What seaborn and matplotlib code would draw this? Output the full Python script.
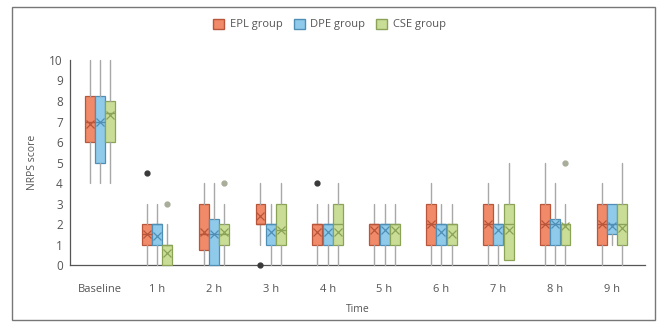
import numpy as np
import seaborn as sns
import matplotlib.pyplot as plt
from matplotlib.patches import Patch, Rectangle

times = ["Baseline", "1 h", "2 h", "3 h", "4 h", "5 h", "6 h", "7 h", "8 h", "9 h"]
groups = ["EPL group", "DPE group", "CSE group"]

# box stats per group, one value per time point
epl_lo = [4, 0, 0, 1, 0, 0, 0, 0, 0, 0]
epl_q1 = [6, 1, 0.75, 2, 1, 1, 1, 1, 1, 1]
epl_med = [7, 1.5, 1.5, 2, 2, 2, 2, 2, 2, 2]
epl_q3 = [8.25, 2, 3, 3, 2, 2, 3, 3, 3, 3]
epl_hi = [10, 3, 4, 4, 3, 3, 4, 4, 5, 4]
epl_mean = [6.9, 1.5, 1.6, 2.4, 1.6, 1.7, 2.0, 2.0, 2.0, 2.0]
epl_out = [[], [4.5], [], [0], [4], [], [], [], [], []]

dpe_lo = [4, 0, 0, 0, 0, 0, 0, 0, 0, 1]
dpe_q1 = [5, 1, 0, 1, 1, 1, 1, 1, 1, 1.5]
dpe_med = [7, 2, 1.5, 2, 2, 2, 2, 2, 2, 2]
dpe_q3 = [8.25, 2, 2.25, 2, 2, 2, 2, 2, 2.25, 3]
dpe_hi = [10, 3, 4, 3, 3, 3, 3, 3, 4, 3]
dpe_mean = [7.0, 1.4, 1.5, 1.6, 1.6, 1.7, 1.6, 1.7, 2.0, 1.9]
dpe_out = [[], [], [], [], [], [], [], [], [], []]

cse_lo = [4, 0, 0, 0, 0, 0, 0, 0.25, 0, 0]
cse_q1 = [6, 0, 1, 1, 1, 1, 1, 0.25, 1, 1]
cse_med = [7.4, 1, 1.5, 1.7, 2, 2, 2, 2, 2, 2]
cse_q3 = [8, 1, 2, 3, 3, 2, 2, 3, 2, 3]
cse_hi = [10, 2, 3, 4, 4, 3, 3, 5, 3, 5]
cse_mean = [7.3, 0.6, 1.6, 1.7, 1.6, 1.7, 1.5, 1.7, 1.9, 1.8]
cse_out = [[], [3], [4], [], [], [], [], [], [5], []]

stats = {
    "EPL group": (epl_lo, epl_q1, epl_med, epl_q3, epl_hi, epl_mean, epl_out),
    "DPE group": (dpe_lo, dpe_q1, dpe_med, dpe_q3, dpe_hi, dpe_mean, dpe_out),
    "CSE group": (cse_lo, cse_q1, cse_med, cse_q3, cse_hi, cse_mean, cse_out),
}

fills = ["#f08a68", "#8fcaea", "#c9dd97"]
edges = ["#b8553a", "#4f8fb5", "#8aa357"]
flier_cols = ["#3a3a3a", "#8a9aa8", "#a8ae9a"]

sns.set_style("white")
plt.rcParams['font.family'] = ['Open Sans', 'DejaVu Sans']
txt = "#555555"

fig = plt.figure(figsize=(6.59, 3.26), dpi=100)
ax = fig.add_axes([0.106, 0.187, 0.873, 0.629])

width = 0.18
offsets = [-width, 0, width]
x = np.arange(len(times))
for gi, g in enumerate(groups):
    lo, q1, med, q3, hi, mean, out = stats[g]
    bstats = []
    for i in range(len(times)):
        bstats.append(dict(whislo=lo[i], q1=q1[i], med=med[i], q3=q3[i],
                           whishi=hi[i], mean=mean[i], fliers=out[i]))
    ax.bxp(bstats, positions=x + offsets[gi], widths=width * 0.97,
           patch_artist=True, showmeans=True, showcaps=False,
           boxprops=dict(facecolor=fills[gi], edgecolor=edges[gi], linewidth=0.9),
           medianprops=dict(color=edges[gi], linewidth=1.0),
           whiskerprops=dict(color="#a8a8a8", linewidth=1.0),
           meanprops=dict(marker="x", markeredgecolor=edges[gi], markersize=6, markeredgewidth=0.9),
           flierprops=dict(marker="o", markerfacecolor=flier_cols[gi], markeredgecolor=flier_cols[gi],
                           markersize=3.5),
           manage_ticks=False, zorder=3)

ax.set_ylim(0, 10)
ax.set_xlim(-0.53, 9.58)
ax.set_yticks(range(0, 11))
ax.set_xticks(x)
ax.set_xticklabels(times)
ax.set_xticks(np.arange(0.5, 9.5, 1), minor=True)
ax.tick_params(axis="x", which="major", length=0, pad=14, labelsize=8, colors=txt)
ax.tick_params(axis="x", which="minor", length=3, width=0.8, color=txt, direction="out")
ax.tick_params(axis="y", length=3, width=0.8, color=txt, labelsize=8.5, labelcolor=txt, pad=2)
for s in ["top", "right"]:
    ax.spines[s].set_visible(False)
for s in ["left", "bottom"]:
    ax.spines[s].set_color(txt)
    ax.spines[s].set_linewidth(0.9)
for p in ax.patches + ax.lines:
    p.set_clip_on(False)

ax.set_ylabel("NRPS score", fontsize=7.5, color=txt, labelpad=8)
ax.set_xlabel("Time", fontsize=7.5, color=txt, labelpad=6)

handles = [Patch(facecolor=fills[i], edgecolor=edges[i], label=groups[i]) for i in range(3)]
fig.legend(handles=handles, loc="center", bbox_to_anchor=(0.5, 0.925), ncol=3,
           frameon=False, fontsize=8, labelcolor=txt, handlelength=1.0, handleheight=1.0,
           handletextpad=0.5, columnspacing=1.0)

fig.patches.append(Rectangle((12 / 659, 6 / 326), 643 / 659, 313 / 326, transform=fig.transFigure,
                             fill=False, edgecolor="#777777", linewidth=1.0))

fig.savefig("out.png", dpi=100)
